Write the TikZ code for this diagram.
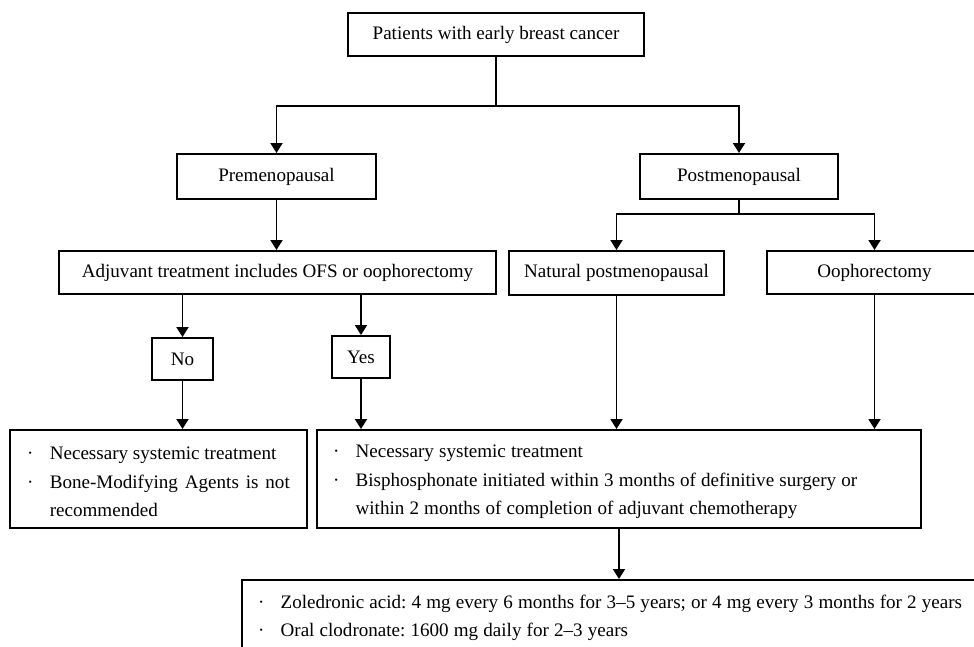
\documentclass[tikz,border=0pt]{standalone}
\usepackage{fontspec}
\setmainfont{Liberation Serif}
\usetikzlibrary{arrows.meta}

\frenchspacing
\newcommand{\bpt}{\ifvmode\noindent\fi\hangindent=17pt\hangafter=1\makebox[17pt][l]{·}}
\newcommand{\tightsp}{\spaceskip=0.27em plus 0.05em minus 0.02em\xspaceskip=0pt\relax}

\begin{document}
\begin{tikzpicture}[x=0.75pt,y=-0.75pt,
  box/.style={draw=black,line width=1.5pt,inner sep=0pt,align=center,font=\fontsize{14.3}{21.4}\selectfont},
  sz/.style 2 args={minimum width=#1*0.75pt,minimum height=#2*0.75pt},
  ln/.style={line width=1.4pt,black},
  arr/.style={ln,-{Triangle[length=7.5pt,width=9pt]}}]
\useasboundingbox (0,0) rectangle (974,646);
\clip (0,0) rectangle (974,646);

\node[box,sz={296}{43}] (pat) at (496,34.5) {Patients with early breast cancer};

\node[box,sz={199}{45}] (pre) at (276.5,176.5) {Premenopausal};
\node[box,sz={198}{45}] (post) at (739,176.5) {Postmenopausal};

\node[box,sz={437}{43}] (adj) at (277.5,272.5) {Adjuvant treatment includes OFS or oophorectomy};
\node[box,sz={215}{44}] (nat) at (616.5,273) {Natural postmenopausal};
\node[box,sz={215}{43}] (ooph) at (874.5,272.5) {Oophorectomy};

\node[box,sz={61}{42}] (no) at (182.5,359) {No};
\node[box,sz={58}{42}] (yes) at (361,357) {Yes};

\node[box,sz={297}{98},align=justify,text width=197pt,text height=14pt] (left) at (158.5,479)
  {\bpt Necessary systemic treatment\par
   \bpt Bone-Modifying Agents is not\linebreak recommended\par};
\node[box,sz={604}{98},align=left,text width=429pt,text height=14pt] (right) at (619,479)
  {\tightsp\bpt Necessary systemic treatment\par
   \bpt Bisphosphonate initiated within 3 months of definitive surgery or\newline
   within 2 months of completion of adjuvant chemotherapy\par};

\node[box,anchor=north west,align=left,text width=555pt,inner xsep=12pt,inner ysep=11pt] (bot) at (241,579)
  {\tightsp\bpt Zoledronic acid: 4 mg every 6 months for 3--5 years; or 4 mg every 3 months for 2 years\par
   \bpt Oral clodronate: 1600 mg daily for 2--3 years\rule[-25pt]{0pt}{0pt}\par};

\path (pat.south) ++(0,49) coordinate (j1);
\draw[ln] (pat.south) -- (j1);
\draw[arr] (j1) -| (pre.north);
\draw[arr] (j1) -| (post.north);

\draw[arr] (pre.south) -- (pre.south |- adj.north);

\path (post.south) ++(0,14) coordinate (j2);
\draw[ln] (post.south) -- (j2);
\draw[arr] (j2) -| (nat.north);
\draw[arr] (j2) -| (ooph.north);

\draw[arr] (no.north |- adj.south) -- (no.north);
\draw[arr] (yes.north |- adj.south) -- (yes.north);

\draw[arr] (no.south) -- (no.south |- left.north);
\draw[arr] (yes.south) -- (yes.south |- right.north);
\draw[arr] (nat.south) -- (nat.south |- right.north);
\draw[arr] (ooph.south) -- (ooph.south |- right.north);

\draw[arr] (right.south) -- (right.south |- bot.north);

\end{tikzpicture}
\end{document}
